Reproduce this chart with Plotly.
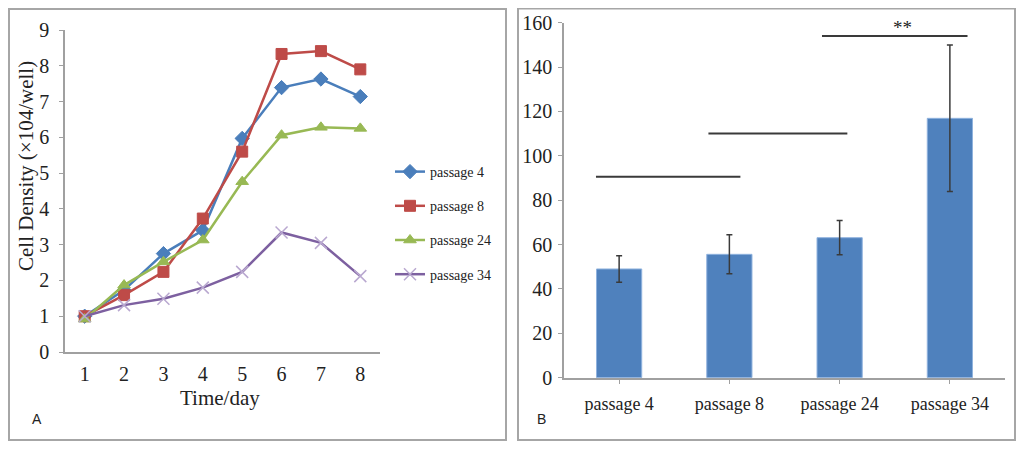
import plotly.graph_objects as go

# panel A: growth curves
days = [1, 2, 3, 4, 5, 6, 7, 8]
passage_4 = [1.0, 1.73, 2.75, 3.4, 5.97, 7.39, 7.63, 7.14]
passage_8 = [1.0, 1.59, 2.24, 3.73, 5.6, 8.33, 8.41, 7.9]
passage_24 = [0.92, 1.87, 2.52, 3.13, 4.76, 6.06, 6.28, 6.25]
passage_34 = [1.0, 1.31, 1.49, 1.8, 2.24, 3.34, 3.05, 2.12]

# panel B: bars with error bars
bar_labels = ["passage 4", "passage 8", "passage 24", "passage 34"]
bar_values = [49.0, 55.6, 63.1, 116.9]
bar_errors = [6.0, 8.8, 7.7, 33.0]

# significance brackets (start, end in category units, height)
sig_starts = [-0.21, 0.81, 1.84]
sig_ends = [1.10, 2.07, 3.16]
sig_heights = [90.6, 110.1, 154.0]

W, H = 1024, 449
OFF = 8  # page body margin
serif = "Liberation Serif"
axis_gray = "#A0A0A0"


def px(x):
    return (x - OFF) / W


def py(y):
    return 1 - (y - OFF) / H


fig = go.Figure()

series = [
    ("passage 4", passage_4, "#4A7EBB", "diamond", 11),
    ("passage 8", passage_8, "#BE4B48", "square", 11),
    ("passage 24", passage_24, "#98B954", "triangle-up", 11),
    ("passage 34", passage_34, "#7D60A0", "x-thin", 12),
]
for name, vals, col, sym, size in series:
    mk = dict(symbol=sym, size=size, color=col, line=dict(color=col, width=1))
    if sym == "x-thin":
        mk = dict(symbol=sym, size=size, color="#B9A8D0", line=dict(color="#B9A8D0", width=1.5))
    fig.add_trace(go.Scatter(
        x=days, y=vals, name=name, mode="lines+markers",
        line=dict(color=col, width=2.5), marker=mk,
        legendgroup=name, xaxis="x", yaxis="y"
    ))

fig.add_trace(go.Bar(
    x=list(range(len(bar_labels))), y=bar_values, width=0.41,
    marker=dict(color="#4F81BD", line=dict(color="#8FB2DE", width=1)),
    error_y=dict(type="data", array=bar_errors, color="#3A3A3A", thickness=1.5, width=3),
    showlegend=False, xaxis="x2", yaxis="y2"
))

for s, e, h in zip(sig_starts, sig_ends, sig_heights):
    fig.add_shape(type="line", xref="x2", yref="y2", x0=s, x1=e, y0=h, y1=h,
                  line=dict(color="#3A3A3A", width=2))

# panel borders
fig.add_shape(type="rect", xref="paper", yref="paper", x0=px(9), x1=px(506), y0=py(440), y1=py(9),
              line=dict(color="#A6A6A6", width=2))
fig.add_shape(type="rect", xref="paper", yref="paper", x0=px(518), x1=px(1015), y0=py(440), y1=py(8.5),
              line=dict(color="#A6A6A6", width=2))

annotations = [
    dict(text="**", x=2.57, y=158, xref="x2", yref="y2", showarrow=False,
         font=dict(family=serif, size=19, color="#222")),
    dict(text="Cell Density (×104/well)", x=px(26), y=py(166), xref="paper", yref="paper",
         xanchor="center", yanchor="middle",
         textangle=-90, showarrow=False, font=dict(family=serif, size=21, color="#222")),
    dict(text="Time/day", x=px(220), y=py(398), xref="paper", yref="paper",
         xanchor="center", yanchor="middle",
         showarrow=False, font=dict(family=serif, size=21, color="#222")),
    dict(text="A", x=px(37), y=py(419), xref="paper", yref="paper",
         xanchor="center", yanchor="middle",
         showarrow=False, font=dict(family="Liberation Sans", size=14, color="#222")),
    dict(text="B", x=px(541), y=py(419), xref="paper", yref="paper",
         xanchor="center", yanchor="middle",
         showarrow=False, font=dict(family="Liberation Sans", size=14, color="#222")),
]

fig.update_layout(
    width=W, height=H,
    margin=dict(l=0, r=0, t=0, b=0),
    paper_bgcolor="white", plot_bgcolor="white",
    font=dict(family=serif, color="#222"),
    annotations=annotations,
    legend=dict(x=px(390), y=py(156), xanchor="left", yanchor="top",
                font=dict(family=serif, size=14, color="#222"),
                tracegroupgap=13, itemwidth=30, bgcolor="rgba(0,0,0,0)"),
    xaxis=dict(domain=[px(65), px(380)], range=[0.5, 8.5], tickvals=days,
               showline=True, linecolor=axis_gray, linewidth=1.5, ticks="",
               showgrid=False, zeroline=False, tickfont=dict(size=20),
               ticklabelstandoff=3, anchor="y", automargin=False),
    yaxis=dict(domain=[py(352), py(30)], range=[0, 9], dtick=1,
               showline=True, linecolor=axis_gray, linewidth=1.5, ticks="outside",
               ticklen=4, tickcolor=axis_gray, showgrid=False, zeroline=False,
               tickfont=dict(size=20), ticklabelstandoff=6, anchor="x", automargin=False),
    xaxis2=dict(domain=[px(564), px(1005)], range=[-0.5, 3.5],
                tickvals=list(range(len(bar_labels))), ticktext=bar_labels,
                showline=True, linecolor=axis_gray, linewidth=1.5,
                ticks="outside", ticklen=5, tickcolor=axis_gray, tickson="boundaries",
                showgrid=False, zeroline=False, tickfont=dict(size=18),
                ticklabelstandoff=4, anchor="y2", automargin=False),
    yaxis2=dict(domain=[py(377.7), py(22.7)], range=[0, 160], dtick=20,
                showline=True, linecolor=axis_gray, linewidth=1.5, ticks="outside",
                ticklen=4, tickcolor=axis_gray, showgrid=False, zeroline=False,
                tickfont=dict(size=20), ticklabelstandoff=2, anchor="x2", automargin=False),
)

fig.write_html("out.html")
